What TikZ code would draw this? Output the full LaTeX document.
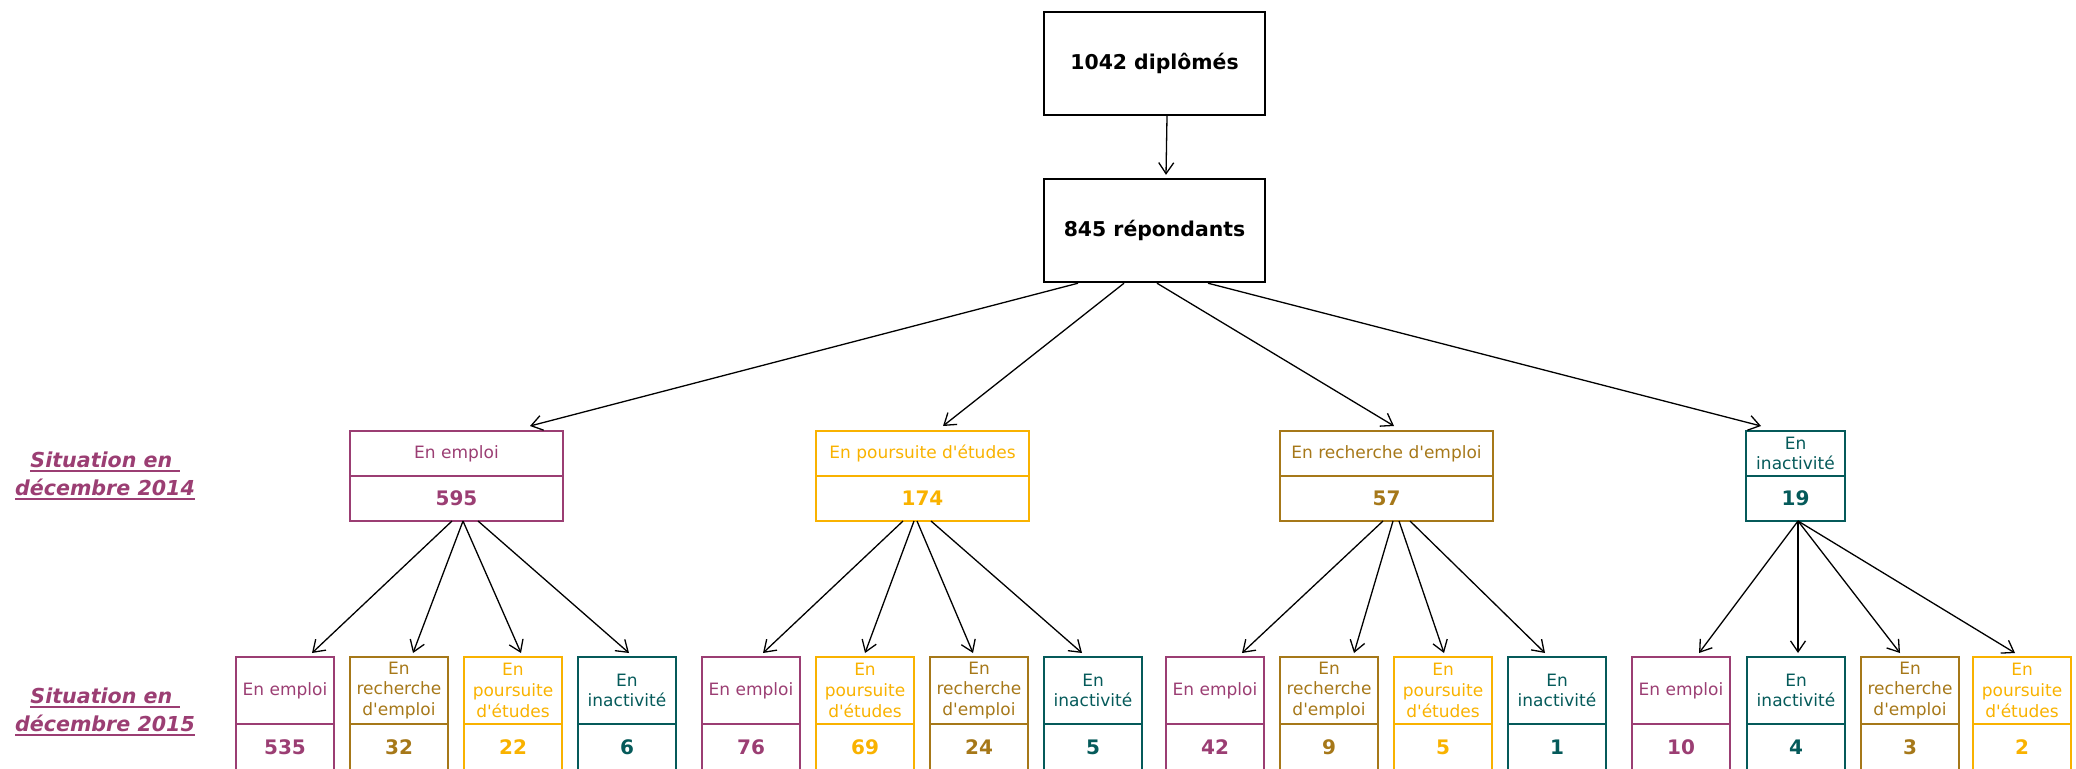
\documentclass[tikz,border=0pt]{standalone}
\usepackage{fontspec}
\newfontfamily\dv{DejaVu Sans}
\usetikzlibrary{arrows.meta}
\definecolor{cEmp}{RGB}{155,62,115}
\definecolor{cPou}{RGB}{249,178,0}
\definecolor{cRec}{RGB}{166,120,25}
\definecolor{cIna}{RGB}{5,90,90}
\newcommand\myul[1]{\setbox0=\hbox{#1}\rlap{\rule[-2.6pt]{\wd0}{1.2pt}}\box0}
\begin{document}
\begin{tikzpicture}[x=0.5pt,y=-0.5pt,
  topbox/.style={draw, line width=1.2pt, minimum width=110.5pt, minimum height=51.5pt, inner sep=0pt, font=\dv\bfseries\fontsize{10.2}{12}\selectfont},
  l1lab/.style={draw, line width=1pt, outer sep=0pt, minimum width=106.5pt, minimum height=22.5pt, inner sep=0pt, align=center, font=\dv\fontsize{8.5}{9.8}\selectfont},
  l1num/.style={draw, line width=1pt, outer sep=0pt, minimum width=106.5pt, minimum height=22.5pt, inner sep=0pt, anchor=north, font=\dv\bfseries\fontsize{10}{12}\selectfont},
  l2lab/.style={draw, line width=1pt, outer sep=0pt, minimum width=49pt, minimum height=33.5pt, inner sep=0pt, align=center, font=\dv\fontsize{8.5}{10.4}\selectfont},
  l2num/.style={draw, line width=1pt, outer sep=0pt, minimum width=49pt, minimum height=23pt, inner sep=0pt, anchor=north, font=\dv\bfseries\fontsize{10}{12}\selectfont},
  emp/.style={draw=cEmp, text=cEmp},
  pou/.style={draw=cPou, text=cPou},
  rec/.style={draw=cRec, text=cRec},
  ina/.style={draw=cIna, text=cIna},
  side/.style={align=center, text=cEmp, inner sep=0pt, font=\dv\bfseries\itshape\fontsize{10.3}{14}\selectfont},
  arr/.style={-{Straight Barb[length=5.5pt,width=7.5pt]}, line width=0.65pt, black}]
\useasboundingbox (0,0) rectangle (2076,768);
\clip (0,0) rectangle (2076,768);

% top boxes
\node[topbox] (top) at (1154.5,63.5) {1042 diplômés};
\node[topbox] (mid) at (1154.5,230.5) {845 répondants};
\draw[arr] ([xshift=6.25pt]top.south) -- ([xshift=5.75pt,yshift=1.5pt]mid.north);

% side labels
\node[side] (s14) at (105,476) {\myul{Situation en\ }\\\myul{décembre 2014}};
\node[side] (s15) at (105,712) {\myul{Situation en\ }\\\myul{décembre 2015}};

% level 1
\node[l1lab, emp] (e1) at (456.5,453.5) {En emploi};
\node[l1num, emp] (e1n) at (e1.south) {595};
\node[l1lab, pou] (p1) at (922.5,453.5) {En poursuite d'études};
\node[l1num, pou] (p1n) at (p1.south) {174};
\node[l1lab, rec] (r1) at (1386.5,453.5) {En recherche d'emploi};
\node[l1num, rec] (r1n) at (r1.south) {57};
\node[l1lab, ina, minimum width=49.5pt] (i1) at (1795.5,453.5) {En\\inactivité};
\node[l1num, ina, minimum width=49.5pt] (i1n) at (i1.south) {19};

\draw[arr] ([xshift=-38.25pt]mid.south) -- ([xshift=36.75pt,yshift=2.5pt]e1.north);
\draw[arr] ([xshift=-15.25pt]mid.south) -- ([xshift=10.25pt,yshift=2.5pt]p1.north);
\draw[arr] ([xshift=1.25pt]mid.south) -- ([xshift=3.75pt,yshift=2.5pt]r1.north);
\draw[arr] ([xshift=26.75pt]mid.south) -- ([xshift=-17.25pt,yshift=2.5pt]i1.north);

% level 2, group 1
\node[l2lab, emp] (a1) at (285,690.5) {En emploi};
\node[l2num, emp] (a1n) at (a1.south) {535};
\node[l2lab, rec] (a2) at (399,690.5) {En\\recherche\\d'emploi};
\node[l2num, rec] (a2n) at (a2.south) {32};
\node[l2lab, pou] (a3) at (513,690.5) {En\\poursuite\\d'études};
\node[l2num, pou] (a3n) at (a3.south) {22};
\node[l2lab, ina] (a4) at (627,690.5) {En\\inactivité};
\node[l2num, ina] (a4n) at (a4.south) {6};

% group 2
\node[l2lab, emp] (b1) at (751,690.5) {En emploi};
\node[l2num, emp] (b1n) at (b1.south) {76};
\node[l2lab, pou] (b2) at (865,690.5) {En\\poursuite\\d'études};
\node[l2num, pou] (b2n) at (b2.south) {69};
\node[l2lab, rec] (b3) at (979,690.5) {En\\recherche\\d'emploi};
\node[l2num, rec] (b3n) at (b3.south) {24};
\node[l2lab, ina] (b4) at (1093,690.5) {En\\inactivité};
\node[l2num, ina] (b4n) at (b4.south) {5};

% group 3
\node[l2lab, emp] (c1) at (1215,690.5) {En emploi};
\node[l2num, emp] (c1n) at (c1.south) {42};
\node[l2lab, rec] (c2) at (1329,690.5) {En\\recherche\\d'emploi};
\node[l2num, rec] (c2n) at (c2.south) {9};
\node[l2lab, pou] (c3) at (1443,690.5) {En\\poursuite\\d'études};
\node[l2num, pou] (c3n) at (c3.south) {5};
\node[l2lab, ina] (c4) at (1557,690.5) {En\\inactivité};
\node[l2num, ina] (c4n) at (c4.south) {1};

% group 4
\node[l2lab, emp] (d1) at (1681,690.5) {En emploi};
\node[l2num, emp] (d1n) at (d1.south) {10};
\node[l2lab, ina] (d2) at (1796,690.5) {En\\inactivité};
\node[l2num, ina] (d2n) at (d2.south) {4};
\node[l2lab, rec] (d3) at (1910,690.5) {En\\recherche\\d'emploi};
\node[l2num, rec] (d3n) at (d3.south) {3};
\node[l2lab, pou] (d4) at (2022,690.5) {En\\poursuite\\d'études};
\node[l2num, pou] (d4n) at (d4.south) {2};

% arrows level 1 -> level 2
\draw[arr] ([xshift=-2.25pt]e1n.south) -- ([xshift=13.5pt,yshift=2pt]a1.north);
\draw[arr] ([xshift=3.25pt]e1n.south) -- ([xshift=7pt,yshift=2pt]a2.north);
\draw[arr] ([xshift=3.25pt]e1n.south) -- ([xshift=4pt,yshift=2pt]a3.north);
\draw[arr] ([xshift=10.75pt]e1n.south) -- ([xshift=1pt,yshift=2pt]a4.north);

\draw[arr] ([xshift=-9.75pt]p1n.south) -- ([xshift=6pt,yshift=2pt]b1.north);
\draw[arr] ([xshift=-4.25pt]p1n.south) -- ([xshift=0pt,yshift=2pt]b2.north);
\draw[arr] ([xshift=-2.75pt]p1n.south) -- ([xshift=-3pt,yshift=2pt]b3.north);
\draw[arr] ([xshift=4.25pt]p1n.south) -- ([xshift=-5.5pt,yshift=2pt]b4.north);

\draw[arr] ([xshift=-1.75pt]r1n.south) -- ([xshift=13.5pt,yshift=2pt]c1.north);
\draw[arr] ([xshift=3.25pt]r1n.south) -- ([xshift=12.5pt,yshift=2pt]c2.north);
\draw[arr] ([xshift=6.25pt]r1n.south) -- ([xshift=0.5pt,yshift=2pt]c3.north);
\draw[arr] ([xshift=11.75pt]r1n.south) -- ([xshift=-6pt,yshift=2pt]c4.north);

\draw[arr] ([xshift=1.25pt]i1n.south) -- ([xshift=9pt,yshift=2pt]d1.north);
\draw[arr] ([xshift=1.25pt]i1n.south) -- ([xshift=1pt,yshift=2pt]d2.north);
\draw[arr] ([xshift=1.25pt]i1n.south) -- ([xshift=-5pt,yshift=2pt]d3.north);
\draw[arr] ([xshift=1.25pt]i1n.south) -- ([xshift=-3.5pt,yshift=2pt]d4.north);
\end{tikzpicture}
\end{document}
